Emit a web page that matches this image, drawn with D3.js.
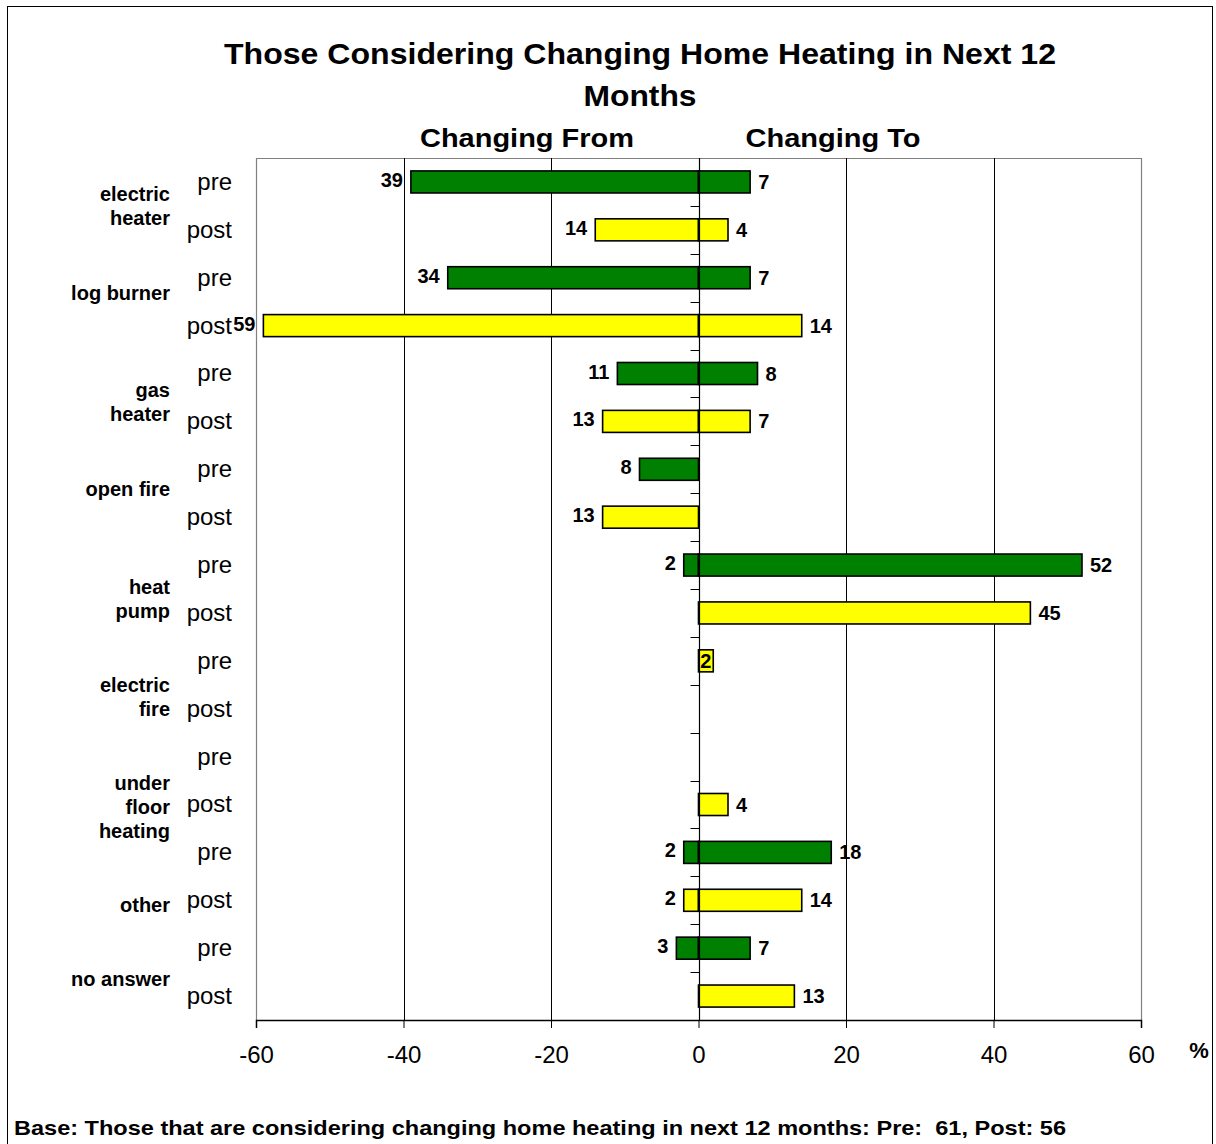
<!DOCTYPE html>
<html><head><meta charset="utf-8">
<script src="https://cdn.jsdelivr.net/npm/d3@7"></script>
<style>body{margin:0;background:#fff;} svg{display:block;font-family:"Liberation Sans",Arial,sans-serif;}</style>
</head><body>
<script>
const categories = ["electric heater","log burner","gas heater","open fire","heat pump","electric fire","under floor heating","other","no answer"];
const categoryLines = [["electric","heater"],["log burner"],["gas","heater"],["open fire"],["heat","pump"],["electric","fire"],["under","floor","heating"],["other"],["no answer"]];
const rowLabels = ["pre","post","pre","post","pre","post","pre","post","pre","post","pre","post","pre","post","pre","post","pre","post"];
const barSeries = ["pre","post","pre","post","pre","post","pre","post","pre","post","post","post","post","post","pre","post","pre","post"];
const changingFrom = [39,14,34,59,11,13,8,13,2,null,null,null,null,null,2,2,3,null];
const changingTo   = [7,4,7,14,8,7,null,null,52,45,2,null,null,4,18,14,7,13];
const xTicks = [-60,-40,-20,0,20,40,60];
const seriesColor = {pre:"#008000", post:"#FFFF00"};
// layout-only offsets (px) for category label placement relative to its pair of rows
const catLabelShift = [0,-9,5,-4,10,12,26,29,7];

const W=1216,H=1144;
const svg=d3.select("body").append("svg").attr("width",W).attr("height",H);
svg.append("rect").attr("x",7.5).attr("y",6.5).attr("width",1205).attr("height",1140).attr("fill","#fff").attr("stroke","#000").attr("stroke-width",1);

const L=256,R=1141,T=158,B=1020;
const x=d3.scaleLinear().domain([-60,60]).range([L,R]);
const y=d3.scaleBand().domain(d3.range(rowLabels.length)).range([T,B]).padding(0);
const bh=y.bandwidth()*0.46;

function stretched(sel,len){ return sel.attr("textLength",len).attr("lengthAdjust","spacingAndGlyphs"); }

// title
stretched(svg.append("text").attr("x",640).attr("y",64).attr("text-anchor","middle").attr("font-weight","bold").attr("font-size",30).text("Those Considering Changing Home Heating in Next 12"),832);
stretched(svg.append("text").attr("x",640).attr("y",106).attr("text-anchor","middle").attr("font-weight","bold").attr("font-size",30).text("Months"),113);
stretched(svg.append("text").attr("x",527).attr("y",147).attr("text-anchor","middle").attr("font-weight","bold").attr("font-size",26).text("Changing From"),214);
stretched(svg.append("text").attr("x",833).attr("y",147).attr("text-anchor","middle").attr("font-weight","bold").attr("font-size",26).text("Changing To"),175);

// plot border
svg.append("path").attr("d",`M${L+.5},${B}V${T+.5}H${R+.5}V${B}`).attr("fill","none").attr("stroke","#808080").attr("stroke-width",1.2);
// gridlines
svg.append("g").selectAll("line").data(xTicks.filter(d=>d!==0&&Math.abs(d)!==60)).join("line")
  .attr("x1",d=>Math.round(x(d))+.5).attr("x2",d=>Math.round(x(d))+.5).attr("y1",T).attr("y2",B).attr("stroke","#000").attr("stroke-width",1);

// bars
const g=svg.append("g");
const rows=d3.range(rowLabels.length);
g.selectAll("rect.from").data(rows.filter(i=>changingFrom[i]!=null)).join("rect")
  .attr("x",i=>x(-changingFrom[i])).attr("width",i=>x(0)-x(-changingFrom[i]))
  .attr("y",i=>y(i)+y.bandwidth()/2-bh/2).attr("height",bh)
  .attr("fill",i=>seriesColor[barSeries[i]]).attr("stroke","#000").attr("stroke-width",1.6);
g.selectAll("rect.to").data(rows.filter(i=>changingTo[i]!=null)).join("rect")
  .attr("x",x(0)).attr("width",i=>x(changingTo[i])-x(0))
  .attr("y",i=>y(i)+y.bandwidth()/2-bh/2).attr("height",bh)
  .attr("fill",i=>seriesColor[barSeries[i]]).attr("stroke","#000").attr("stroke-width",1.6);

// center axis
const x0=Math.round(x(0))+.5;
svg.append("line").attr("x1",x0).attr("x2",x0).attr("y1",T).attr("y2",B).attr("stroke","#000").attr("stroke-width",1.2);
svg.append("g").selectAll("line").data(d3.range(1,rowLabels.length)).join("line")
  .attr("x1",x0-9).attr("x2",x0).attr("y1",i=>Math.round(y(i))+.5).attr("y2",i=>Math.round(y(i))+.5).attr("stroke","#000");

// bottom axis
const ax=svg.append("g").attr("transform",`translate(0,${B})`).call(d3.axisBottom(x).tickValues(xTicks).tickSize(8).tickPadding(18).tickFormat(d3.format("d")));
ax.select(".domain").attr("stroke","#000").attr("stroke-width",1.5);
ax.selectAll(".tick line").attr("stroke","#000");
ax.selectAll("text").attr("font-size",24).attr("font-family","Liberation Sans, Arial, sans-serif").attr("fill","#000").text(d=>d<0?"-"+Math.abs(d):d);
svg.append("text").attr("x",1199).attr("y",1058).attr("text-anchor","middle").attr("font-weight","bold").attr("font-size",22).text("%");

// data labels
const lab=svg.append("g").attr("font-weight","bold").attr("font-size",20).attr("fill","#000");
lab.selectAll("text.f").data(rows.filter(i=>changingFrom[i]!=null)).join("text")
  .attr("x",i=>x(-changingFrom[i])-8).attr("y",i=>y(i)+y.bandwidth()/2-2).attr("dy","0.35em").attr("text-anchor","end")
  .text(i=>changingFrom[i]);
lab.selectAll("text.t").data(rows.filter(i=>changingTo[i]!=null)).join("text")
  .attr("x",i=>changingTo[i]<=2 ? (x(0)+x(changingTo[i]))/2 : x(changingTo[i])+8)
  .attr("text-anchor",i=>changingTo[i]<=2?"middle":"start")
  .attr("y",i=>y(i)+y.bandwidth()/2).attr("dy","0.35em")
  .text(i=>changingTo[i]);

// row labels
svg.append("g").selectAll("text").data(rows).join("text")
  .attr("x",232).attr("y",i=>y(i)+y.bandwidth()/2).attr("dy","0.33em").attr("text-anchor","end").attr("font-size",24)
  .text(i=>rowLabels[i]);

// category labels
const cg=svg.append("g").attr("font-weight","bold").attr("font-size",20).attr("text-anchor","end");
categories.forEach((c,k)=>{
  const lines=categoryLines[k];
  const cy=y(2*k)+y.bandwidth()+catLabelShift[k];
  lines.forEach((ln,j)=>{
    cg.append("text").attr("x",170).attr("y",cy+(j-(lines.length-1)/2)*24).attr("dy","0.35em").text(ln);
  });
});

// footnote
stretched(svg.append("text").attr("x",14).attr("y",1135).attr("font-weight","bold").attr("font-size",21)
  .attr("xml:space","preserve").style("white-space","pre")
  .text("Base: Those that are considering changing home heating in next 12 months: Pre:  61, Post: 56"),1052);
</script>
</body></html>
